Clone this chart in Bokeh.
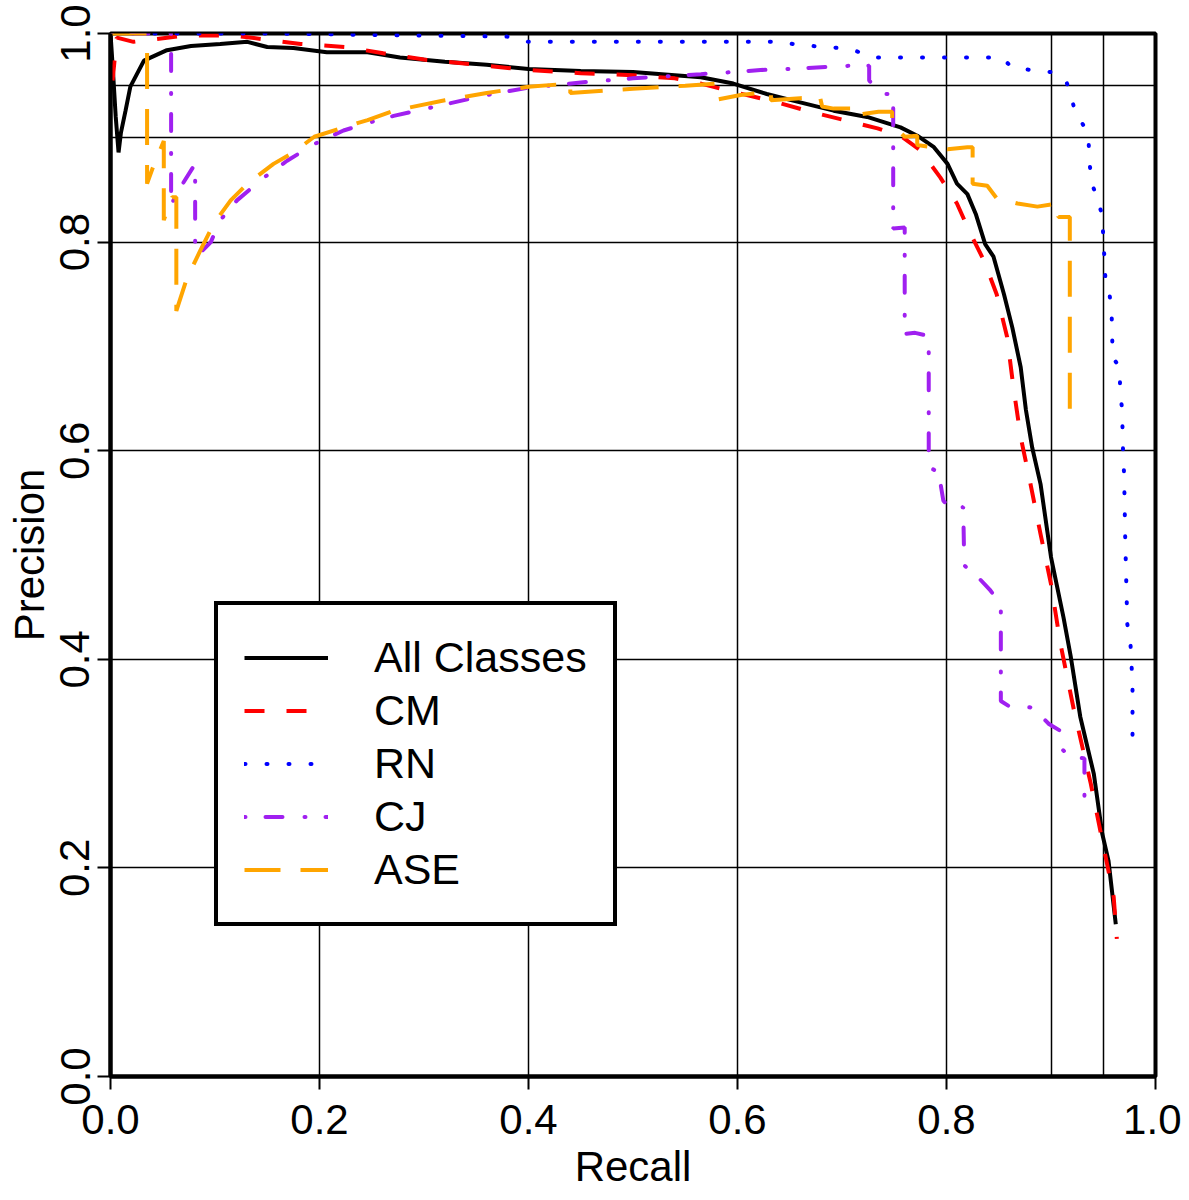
from bokeh.plotting import figure
from bokeh.models import Range1d, FixedTicker, PrintfTickFormatter, Legend, LegendItem
from bokeh.embed import file_html
from bokeh.resources import INLINE

# ---- data ----
axis_ticks = [0.0, 0.2, 0.4, 0.6, 0.8, 1.0]
grid_ticks = [0.2, 0.4, 0.6, 0.8, 0.9, 0.95]

labels = ["All Classes", "CM", "RN", "CJ", "ASE"]

recall_all = [0.0, 0.002, 0.005, 0.0077, 0.010, 0.0144, 0.019, 0.032, 0.054, 0.077, 0.105,
              0.131, 0.150, 0.175, 0.207, 0.246, 0.277, 0.32, 0.36, 0.40, 0.45, 0.50, 0.54,
              0.565, 0.596, 0.628, 0.660, 0.692, 0.724, 0.756, 0.772, 0.788, 0.801, 0.810,
              0.820, 0.828, 0.837, 0.845, 0.855, 0.863, 0.871, 0.876, 0.882, 0.890, 0.900,
              0.912, 0.919, 0.928, 0.941, 0.949, 0.955, 0.962]
precision_all = [1.0, 0.97, 0.92, 0.886, 0.905, 0.926, 0.949, 0.974, 0.984, 0.988, 0.990,
                 0.992, 0.987, 0.986, 0.982, 0.982, 0.977, 0.973, 0.970, 0.966, 0.964, 0.963,
                 0.960, 0.958, 0.952, 0.942, 0.934, 0.926, 0.920, 0.910, 0.902, 0.891, 0.875,
                 0.856, 0.846, 0.827, 0.798, 0.786, 0.750, 0.718, 0.680, 0.639, 0.603, 0.568,
                 0.498, 0.440, 0.402, 0.345, 0.290, 0.233, 0.207, 0.146]

recall_cm = [0.002, 0.006, 0.022, 0.070, 0.118, 0.182, 0.226, 0.261, 0.30, 0.35, 0.40, 0.45,
             0.50, 0.54, 0.565, 0.596, 0.638, 0.670, 0.702, 0.734, 0.756, 0.775, 0.794, 0.810,
             0.823, 0.836, 0.848, 0.858, 0.864, 0.871, 0.879, 0.890, 0.900, 0.909, 0.922,
             0.938, 0.951, 0.960, 0.963]
precision_cm = [0.955, 0.996, 0.992, 0.998, 0.998, 0.990, 0.987, 0.981, 0.975, 0.970, 0.965,
                0.962, 0.960, 0.957, 0.952, 0.944, 0.934, 0.925, 0.917, 0.909, 0.902, 0.888,
                0.862, 0.837, 0.808, 0.782, 0.750, 0.709, 0.661, 0.613, 0.575, 0.520, 0.472,
                0.415, 0.351, 0.281, 0.217, 0.172, 0.132]

recall_rn = [0.0, 0.15, 0.30, 0.38, 0.40, 0.565, 0.641, 0.658, 0.699, 0.714, 0.730, 0.853,
             0.863, 0.900, 0.914, 0.919, 0.923, 0.931, 0.936, 0.937, 0.939, 0.944, 0.949,
             0.950, 0.951, 0.952, 0.956, 0.958, 0.959, 0.966, 0.966, 0.968, 0.969, 0.970,
             0.971, 0.973, 0.976, 0.978, 0.978]
precision_rn = [1.0, 1.0, 0.998, 0.997, 0.992, 0.992, 0.992, 0.989, 0.986, 0.983, 0.977,
                0.977, 0.967, 0.963, 0.956, 0.941, 0.925, 0.912, 0.896, 0.875, 0.857, 0.842,
                0.826, 0.805, 0.787, 0.766, 0.750, 0.733, 0.690, 0.679, 0.658, 0.640, 0.597,
                0.576, 0.517, 0.434, 0.416, 0.376, 0.315]

recall_cj = [0.0, 0.058, 0.058, 0.062, 0.066, 0.081, 0.081, 0.088, 0.096, 0.105, 0.121, 0.147,
             0.169, 0.195, 0.223, 0.249, 0.271, 0.32, 0.36, 0.40, 0.45, 0.50, 0.565, 0.595,
             0.622, 0.649, 0.686, 0.706, 0.726, 0.726, 0.737, 0.749, 0.749, 0.760, 0.760,
             0.770, 0.783, 0.783, 0.794, 0.794, 0.797, 0.805, 0.816, 0.817, 0.829, 0.842,
             0.852, 0.852, 0.863, 0.880, 0.888, 0.898, 0.908, 0.908, 0.918, 0.932, 0.932]
precision_cj = [1.0, 1.0, 0.834, 0.845, 0.851, 0.875, 0.789, 0.792, 0.800, 0.821, 0.840, 0.862,
                0.878, 0.894, 0.907, 0.915, 0.921, 0.932, 0.941, 0.948, 0.953, 0.957, 0.961,
                0.963, 0.965, 0.966, 0.968, 0.969, 0.969, 0.955, 0.942, 0.942, 0.813, 0.814,
                0.712, 0.713, 0.710, 0.584, 0.579, 0.570, 0.552, 0.543, 0.546, 0.490, 0.480,
                0.466, 0.453, 0.360, 0.353, 0.354, 0.348, 0.338, 0.332, 0.316, 0.307, 0.305,
                0.265]

recall_ase = [0.0, 0.035, 0.035, 0.040, 0.051, 0.051, 0.056, 0.059, 0.063, 0.063, 0.073, 0.086,
              0.099, 0.115, 0.131, 0.156, 0.175, 0.195, 0.220, 0.246, 0.271, 0.32, 0.36, 0.40,
              0.44, 0.44, 0.50, 0.55, 0.582, 0.582, 0.603, 0.628, 0.632, 0.632, 0.660, 0.679,
              0.681, 0.692, 0.708, 0.708, 0.735, 0.748, 0.748, 0.760, 0.772, 0.772, 0.801,
              0.820, 0.825, 0.825, 0.839, 0.848, 0.868, 0.887, 0.907, 0.907, 0.918, 0.918]
precision_ase = [1.0, 1.0, 0.856, 0.870, 0.897, 0.821, 0.835, 0.843, 0.843, 0.734, 0.765, 0.792,
                 0.818, 0.840, 0.856, 0.875, 0.886, 0.901, 0.909, 0.917, 0.926, 0.936, 0.943,
                 0.949, 0.952, 0.943, 0.947, 0.950, 0.952, 0.937, 0.941, 0.944, 0.944, 0.936,
                 0.938, 0.939, 0.930, 0.928, 0.928, 0.921, 0.925, 0.925, 0.913, 0.901, 0.902,
                 0.893, 0.889, 0.891, 0.891, 0.856, 0.854, 0.842, 0.837, 0.834, 0.837, 0.824,
                 0.824, 0.626]

FONT = "Liberation Sans, Arial, sans-serif"
FS = "42px"

p = figure(width=1181, height=1192,
           x_range=Range1d(0, 1), y_range=Range1d(0, 1),
           output_backend="svg", toolbar_location=None,
           min_border_left=110, min_border_right=26,
           min_border_top=33, min_border_bottom=116)

p.background_fill_color = "white"
p.border_fill_color = "white"
p.outline_line_color = "black"
p.outline_line_width = 4

for ax in (p.xaxis[0], p.yaxis[0]):
    ax.ticker = FixedTicker(ticks=axis_ticks)
    ax.formatter = PrintfTickFormatter(format="%.1f")
    ax.axis_line_color = "black"
    ax.axis_line_width = 4
    ax.major_tick_line_color = "black"
    ax.major_tick_line_width = 2
    ax.major_tick_out = 13
    ax.major_tick_in = 0
    ax.minor_tick_line_color = None
    ax.major_label_text_font = FONT
    ax.major_label_text_font_size = FS
    ax.major_label_text_color = "black"
    ax.axis_label_text_font = FONT
    ax.axis_label_text_font_size = FS
    ax.axis_label_text_font_style = "normal"
    ax.axis_label_text_color = "black"
    ax.major_label_text_line_height = 1.0
    ax.axis_label_text_line_height = 1.0

p.xaxis.axis_label = "Recall"
p.yaxis.axis_label = "Precision"
p.yaxis.major_label_orientation = "vertical"
p.xaxis.major_label_standoff = 15
p.yaxis.major_label_standoff = 8
p.xaxis.axis_label_standoff = 6
p.yaxis.axis_label_standoff = 5

for g in (p.xgrid[0], p.ygrid[0]):
    g.ticker = FixedTicker(ticks=grid_ticks)
    g.grid_line_color = "black"
    g.grid_line_width = 1.5
    g.grid_line_alpha = 1.0

r_all = p.line(recall_all, precision_all, line_color="black", line_width=4)
r_cm = p.line(recall_cm, precision_cm, line_color="#ff0000", line_width=4,
              line_dash="20 22")
r_rn = p.line(recall_rn, precision_rn, line_color="#0000ff", line_width=4,
              line_dash="1 21", line_cap="round")
r_cj = p.line(recall_cj, precision_cj, line_color="#a020f0", line_width=4,
              line_dash="1 20 17 22", line_cap="round")
r_ase = p.line(recall_ase, precision_ase, line_color="#ffa500", line_width=4,
               line_dash="36 20")

legend = Legend(items=[LegendItem(label=lab, renderers=[r])
                       for lab, r in zip(labels, [r_all, r_cm, r_rn, r_cj, r_ase])],
                location=(104, 150))
legend.label_text_font = FONT
legend.label_text_font_size = "43px"
legend.label_text_color = "black"
legend.glyph_width = 84
legend.glyph_height = 53
legend.label_height = 53
legend.label_standoff = 46
legend.spacing = 0
legend.padding = 26
legend.margin = 0
legend.border_line_color = "black"
legend.border_line_alpha = 1.0
legend.border_line_width = 4
legend.background_fill_color = "white"
legend.background_fill_alpha = 1.0
p.add_layout(legend)

open("out.html", "w").write(file_html(p, INLINE))
